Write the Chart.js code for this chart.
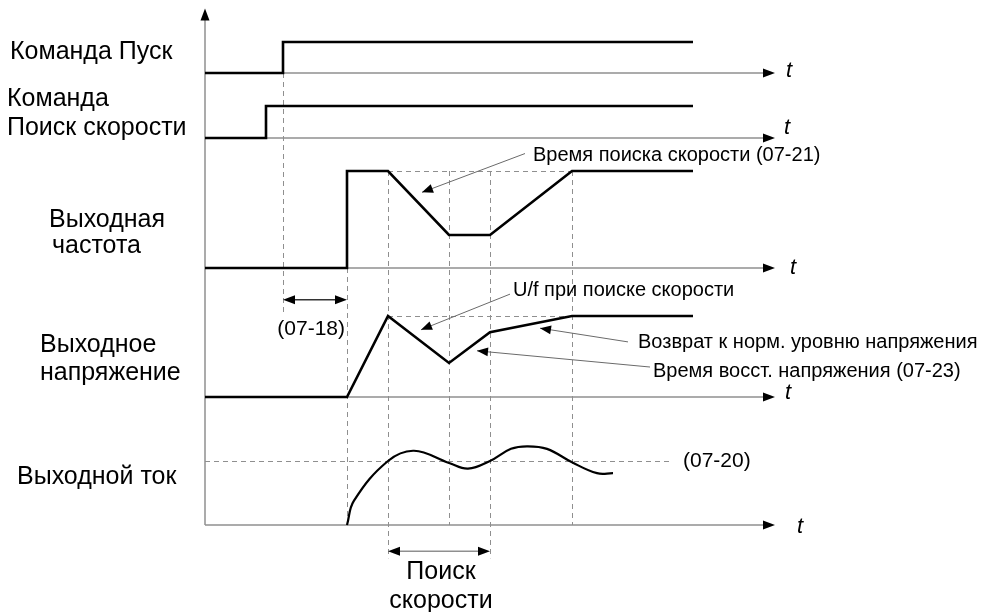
<!DOCTYPE html>
<html>
<head>
<meta charset="utf-8">
<script src="https://cdn.jsdelivr.net/npm/chart.js@4.4.1/dist/chart.umd.min.js"></script>
<style>
html,body{margin:0;padding:0;background:#fff}
#box{width:985px;height:612px;position:relative}
</style>
</head>
<body>
<div id="box"><canvas id="chart"></canvas></div>
<script>
// time instants (arbitrary units, t=0 on the vertical axis)
const tSearchCmd=6.1, tRun=7.8, tOut=14.2, tS0=18.3, tMid=24.4, tS1=28.5, tRec=36.7, tEnd=48.8, tAxisEnd=57

// signals: 0 = base level, 1 = nominal level
const runT=[0,tRun,tRun,tEnd]
const runV=[0,0,1,1]
const searchT=[0,tSearchCmd,tSearchCmd,tEnd]
const searchV=[0,0,1,1]
const freqT=[0,tOut,tOut,tS0,tMid,tS1,tRec,tEnd]
const freqV=[0,0,1,1,0.34,0.34,1,1]
const voltT=[0,tOut,tS0,tMid,tS1,tRec,tEnd]
const voltV=[0,0,1,0.42,0.8,1,1]
const curT=[14.2,14.9,18.3,20.9,24.4,26.3,28.5,30.6,32.2,34.2,36.7,39.2,40.8]
const curV=[0,0.38,1,1.16,0.97,0.88,1,1.19,1.23,1.19,0.98,0.81,0.81]

// row layout: pixel of level 0 and level 1 for each signal axis
const W=985, H=612
const rows={
    yRun:[73,42],
    ySearch:[138,106],
    yFreq:[268,171],
    yVolt:[397,316],
    yCur:[525,461]
}
const pxPerT=10, axisX=205

const FONT='"Liberation Sans", Arial, sans-serif'
const GRAY='#8f8f8f'

const pts=(T,V)=>T.map((t,i)=>({x:t,y:V[i]}))

const scales={
    x:{type:'linear',display:false,min:-axisX/pxPerT,max:(W-axisX)/pxPerT}
}
Object.keys(rows).forEach(id=>{
    const base=rows[id][0], ppu=base-rows[id][1]
    scales[id]={type:'linear',display:false,min:-(H-base)/ppu,max:base/ppu}
})

const trace=(data,axis,extra)=>Object.assign({
    data:data,
    yAxisID:axis,
    borderColor:'#000',
    borderWidth:2.6,
    pointRadius:0,
    tension:0,
    borderCapStyle:'butt'
},extra||{})

// labels on the left
const rowLabels=[
    ['Команда Пуск',-19.5,'yRun',0.68],
    ['Команда',-19.8,'ySearch',1.22],
    ['Поиск скорости',-19.8,'ySearch',0.31],
    ['Выходная',-15.6,'yFreq',0.49],
    ['частота',-15.3,'yFreq',0.23],
    ['Выходное',-16.5,'yVolt',0.64],
    ['напряжение',-16.5,'yVolt',0.30],
    ['Выходной ток',-18.8,'yCur',0.75]
]
// "t" next to each time arrow: row, dx(t), level
const tLabels=[['yRun',1.1,0.08],['ySearch',0.9,0.31],['yFreq',1.5,0],['yVolt',1.0,0.05],['yCur',2.2,-0.03]]

// annotations: text, axis, text t/level, line start t/level, tip t/level
const notes=[
    ['Время поиска скорости (07-21)','yFreq',32.8,1.165,32.0,1.18,21.7,0.78],
    ['U/f при поиске скорости','yVolt',30.8,1.32,30.5,1.27,21.6,0.83],
    ['Возврат к норм. уровню напряжения','yVolt',43.3,0.667,42.3,0.68,33.5,0.85],
    ['Время восст. напряжения (07-23)','yVolt',44.8,0.32,44.5,0.37,27.2,0.57]
]

function head(ctx,x,y,ang,len,half){
    ctx.save()
    ctx.translate(x,y)
    ctx.rotate(ang)
    ctx.beginPath()
    ctx.moveTo(0,0)
    ctx.lineTo(-len,-half)
    ctx.lineTo(-len,half)
    ctx.closePath()
    ctx.fillStyle='#000'
    ctx.fill()
    ctx.restore()
}

const diagram={
    id:'diagram',
    beforeDatasetsDraw(chart){
        const ctx=chart.ctx, sc=chart.scales
        const X=t=>sc.x.getPixelForValue(t)
        const Y=(id,v)=>sc[id].getPixelForValue(v)
        ctx.save()
        // dashed guides
        ctx.strokeStyle=GRAY
        ctx.lineWidth=1
        ctx.setLineDash([5,4])
        const vguides=[
            [tRun,'yRun',0,'yVolt',1.04],
            [tOut,'yFreq',0,'yCur',0],
            [tS0,'yFreq',1,'yCur',-0.52],
            [tMid,'yFreq',1,'yCur',0],
            [tS1,'yFreq',1,'yCur',-0.52],
            [tRec,'yFreq',1,'yCur',0]
        ]
        vguides.forEach(g=>{
            const x=Math.round(X(g[0]))+0.5
            ctx.beginPath()
            ctx.moveTo(x,Y(g[1],g[2]))
            ctx.lineTo(x,Y(g[3],g[4]))
            ctx.stroke()
        })
        const hguides=[['yFreq',1,tS0,tRec],['yVolt',1,tS0,tRec],['yCur',1,0,46.8]]
        hguides.forEach(g=>{
            const y=Math.round(Y(g[0],g[1]))+0.5
            ctx.beginPath()
            ctx.moveTo(X(g[2]),y)
            ctx.lineTo(X(g[3]),y)
            ctx.stroke()
        })
        ctx.setLineDash([])
        // time axes
        ctx.lineWidth=1.5
        Object.keys(rows).forEach(id=>{
            const y=Y(id,0)
            ctx.strokeStyle=GRAY
            ctx.beginPath()
            ctx.moveTo(X(0),y)
            ctx.lineTo(X(tAxisEnd)-6,y)
            ctx.stroke()
            head(ctx,X(tAxisEnd),y,0,12,4.5)
        })
        // vertical axis
        const top=Y('yRun',2.08)
        ctx.strokeStyle=GRAY
        ctx.beginPath()
        ctx.moveTo(X(0),Y('yCur',0))
        ctx.lineTo(X(0),top+6)
        ctx.stroke()
        head(ctx,X(0),top,-Math.PI/2,12,4.5)
        ctx.restore()
    },
    afterDatasetsDraw(chart){
        const ctx=chart.ctx, sc=chart.scales
        const X=t=>sc.x.getPixelForValue(t)
        const Y=(id,v)=>sc[id].getPixelForValue(v)
        ctx.save()
        ctx.fillStyle='#000'
        ctx.textBaseline='middle'
        ctx.textAlign='left'
        ctx.font='25px '+FONT
        rowLabels.forEach(l=>ctx.fillText(l[0],X(l[1]),Y(l[2],l[3])))
        ctx.font='italic 22px '+FONT
        tLabels.forEach(l=>ctx.fillText('t',X(tAxisEnd+l[1]),Y(l[0],l[2])))

        // annotation arrows
        ctx.font='20px '+FONT
        notes.forEach(n=>{
            const ax=n[1]
            ctx.fillStyle='#000'
            ctx.fillText(n[0],X(n[2]),Y(ax,n[3]))
            const x0=X(n[4]),y0=Y(ax,n[5]),x1=X(n[6]),y1=Y(ax,n[7])
            ctx.strokeStyle='#6a6a6a'
            ctx.lineWidth=1
            ctx.beginPath()
            ctx.moveTo(x0,y0)
            ctx.lineTo(x1,y1)
            ctx.stroke()
            head(ctx,x1,y1,Math.atan2(y1-y0,x1-x0),11,4.5)
        })

        // (07-18) span
        const dbl=(xa,xb,y,col)=>{
            ctx.strokeStyle=col
            ctx.lineWidth=1.5
            ctx.beginPath()
            ctx.moveTo(xa+8,y)
            ctx.lineTo(xb-8,y)
            ctx.stroke()
            head(ctx,xa,y,Math.PI,12,4.5)
            head(ctx,xb,y,0,12,4.5)
        }
        dbl(X(tRun),X(tOut),Y('yVolt',1.2),'#333')
        ctx.fillStyle='#000'
        ctx.textAlign='right'
        ctx.font='21px '+FONT
        ctx.fillText('(07-18)',X(tOut)-2,Y('yVolt',0.84))
        ctx.textAlign='left'
        ctx.fillText('(07-20)',X(47.8),Y('yCur',1))

        // search span
        dbl(X(tS0),X(tS1),Y('yCur',-0.41),GRAY)
        ctx.textAlign='center'
        ctx.font='25px '+FONT
        const cx=X((tS0+tS1)/2)+2
        ctx.fillText('Поиск',cx,Y('yCur',-0.73))
        ctx.fillText('скорости',cx,Y('yCur',-1.19))
        ctx.restore()
    }
}

const chart=document.querySelector('#chart').getContext('2d')

new Chart(chart,{
    type:'line',
    data:{
        datasets:[
            trace(pts(runT,runV),'yRun'),
            trace(pts(searchT,searchV),'ySearch'),
            trace(pts(freqT,freqV),'yFreq'),
            trace(pts(voltT,voltV),'yVolt'),
            trace(pts(curT,curV),'yCur',{tension:0.4,borderWidth:2.2})
        ]
    },
    options:{
        responsive:true,
        maintainAspectRatio:false,
        animation:false,
        events:[],
        layout:{padding:0},
        plugins:{legend:{display:false},tooltip:{enabled:false}},
        scales:scales
    },
    plugins:[diagram]
})
</script>
</body>
</html>
